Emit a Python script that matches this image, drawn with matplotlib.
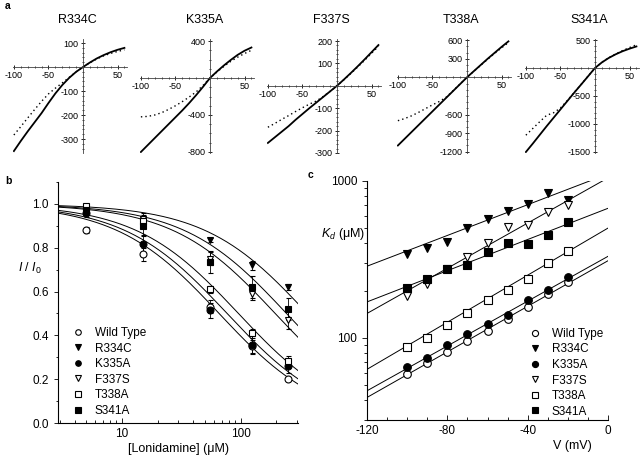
import matplotlib
matplotlib.use('Agg')
import matplotlib.pyplot as plt
import matplotlib.transforms as mtransforms
from matplotlib.ticker import MultipleLocator, FixedLocator, NullFormatter
import numpy as np

plt.rcParams['font.family'] = ['Liberation Sans', 'DejaVu Sans']
plt.rcParams['mathtext.fontset'] = 'custom'
plt.rcParams['mathtext.it'] = 'Liberation Sans:italic'
plt.rcParams['mathtext.rm'] = 'Liberation Sans'
plt.rcParams['axes.unicode_minus'] = False  # plain hyphen for negatives

# ---- panel a : I-V traces (control = solid, lonidamine = dotted) ----
mutants = ['R334C', 'K335A', 'F337S', 'T338A', 'S341A']
v_iv = [-100, -90, -80, -70, -60, -50, -40, -30, -20, -10, 0, 10, 20, 30, 40, 50, 60]
i_r334c = [-350, -308, -268, -230, -192, -150, -110, -75, -45, -20, 0, 19, 36, 50, 62, 72, 80]
i_r334c_lon = [-283, -248, -212, -177, -143, -112, -88, -66, -43, -20, 0, 18, 34, 47, 57, 65, 72]
i_k335a = [-800, -725, -650, -575, -500, -425, -350, -270, -185, -95, 0, 70, 135, 195, 250, 295, 330]
i_k335a_lon = [-420, -415, -400, -375, -340, -300, -255, -205, -150, -80, 0, 65, 125, 180, 225, 265, 300]
i_f337s = [-255, -230, -205, -180, -152, -126, -100, -75, -50, -25, 0, 28, 57, 87, 118, 150, 182]
i_f337s_lon = [-185, -168, -150, -133, -115, -98, -82, -68, -48, -25, 0, 27, 55, 84, 114, 145, 176]
i_t338a = [-1100, -990, -880, -770, -660, -550, -440, -330, -220, -110, 0, 100, 200, 300, 395, 490, 580]
i_t338a_lon = [-700, -665, -620, -565, -505, -445, -390, -320, -215, -108, 0, 98, 196, 292, 385, 475, 560]
i_s341a = [-1500, -1350, -1195, -1040, -890, -740, -590, -440, -295, -148, 0, 100, 180, 245, 300, 345, 385]
i_s341a_lon = [-1200, -1080, -960, -845, -800, -715, -580, -435, -292, -146, 0, 102, 185, 252, 312, 365, 415]
iv_ctrl = [i_r334c, i_k335a, i_f337s, i_t338a, i_s341a]
iv_lon = [i_r334c_lon, i_k335a_lon, i_f337s_lon, i_t338a_lon, i_s341a_lon]
iv_yticks = [[100, -100, -200, -300], [400, -400, -800], [200, 100, -100, -200, -300],
             [600, 300, -600, -900, -1200], [500, -500, -1000, -1500]]
iv_minor = [20, 100, 20, 100, 100]
iv_ylim = [(-358, 117), (-811, 422), (-298, 209), (-1221, 618), (-1518, 518)]

# ---- panel b : dose-response ----
series = ['Wild Type', 'R334C', 'K335A', 'F337S', 'T338A', 'S341A']
conc = [5, 15, 55, 125, 250]
frac_wt = [0.88, 0.77, 0.53, 0.35, 0.20]
frac_r334c = [0.97, 0.93, 0.835, 0.72, 0.62]
frac_k335a = [0.96, 0.815, 0.515, 0.355, 0.26]
frac_f337s = [0.98, 0.93, 0.75, 0.59, 0.47]
frac_t338a = [0.99, 0.92, 0.61, 0.41, 0.285]
frac_s341a = [0.97, 0.90, 0.735, 0.62, 0.52]
err_wt = [0.015, 0.03, 0.03, 0.03, 0.01]
err_r334c = [0.01, 0.02, 0.01, 0.02, 0.015]
err_k335a = [0.02, 0.04, 0.035, 0.04, 0.03]
err_f337s = [0.01, 0.03, 0.03, 0.03, 0.04]
err_t338a = [0.01, 0.02, 0.015, 0.02, 0.02]
err_s341a = [0.02, 0.04, 0.05, 0.05, 0.05]
kd_fit_b = [66, 365, 77, 196, 96, 244]  # uM, Hill n = 1

# ---- panel c : Kd vs voltage ----
volt = [-100, -90, -80, -70, -60, -50, -40, -30, -20]
kd_wt = [59, 69, 81, 95, 111, 132, 158, 190, 226]
kd_r334c = [341, 376, 410, 505, 570, 647, 713, 835, 757]
kd_k335a = [65, 74, 90, 106, 123, 140, 174, 201, 244]
kd_f337s = [185, 220, 276, 327, 401, 507, 525, 638, 703]
kd_t338a = [88, 100, 121, 144, 175, 202, 238, 299, 360]
kd_s341a = [207, 237, 274, 292, 355, 401, 397, 453, 546]
fit_log_kd0 = [2.492, 3.045, 2.52, 3.02, 2.70, 2.826]  # log10 Kd at 0 mV
fit_slope = [0.00726, 0.0049, 0.00714, 0.0072, 0.0075, 0.00497]  # per mV

markers = ['o', 'v', 'o', 'v', 's', 's']
faces = ['white', 'black', 'black', 'white', 'white', 'black']

fig = plt.figure(figsize=(6.4, 4.59), dpi=100)
W, H = 640.0, 459.0

# panel a
lefts = [12.5, 139.5, 266.5, 396.5, 524.5]
for k in range(5):
    ax = fig.add_axes([lefts[k] / W, 1 - 153 / H, 114 / W, 114 / H])
    ax.plot(v_iv, iv_ctrl[k], color='black', lw=1.3)
    ax.plot(v_iv, iv_lon[k], color='black', lw=1.0, ls=(0, (1, 2.2)))
    ax.set_xlim(-102, 63)
    ax.set_ylim(*iv_ylim[k])
    ax.spines['left'].set_position(('data', 0))
    ax.spines['bottom'].set_position(('data', 0))
    ax.spines['top'].set_visible(False)
    ax.spines['right'].set_visible(False)
    for s in ['left', 'bottom']:
        ax.spines[s].set_linewidth(0.6)
        ax.spines[s].set_color('0.25')
    ax.set_xticks([-100, -50, 50])
    ax.xaxis.set_minor_locator(MultipleLocator(10))
    ax.set_yticks(iv_yticks[k])
    ax.yaxis.set_minor_locator(MultipleLocator(iv_minor[k]))
    ax.tick_params(which='major', direction='inout', length=3, width=0.6, labelsize=6.5, pad=1.5)
    ax.tick_params(which='minor', direction='inout', length=1.8, width=0.5)
    ax.patch.set_alpha(0)
    trans = mtransforms.blended_transform_factory(ax.transData, ax.transAxes)
    ax.text(-8, 1.17, mutants[k], transform=trans, ha='center', va='center', fontsize=9)

# panel b
axb = fig.add_axes([58 / W, 1 - 423 / H, 240 / W, 241 / H])
fracs = [frac_wt, frac_r334c, frac_k335a, frac_f337s, frac_t338a, frac_s341a]
errs = [err_wt, err_r334c, err_k335a, err_f337s, err_t338a, err_s341a]
xc = np.logspace(np.log10(2.9), np.log10(305), 200)
for k in range(6):
    axb.plot(xc, 1 / (1 + xc / kd_fit_b[k]), color='black', lw=0.7)
for k in range(6):
    axb.errorbar(conc, fracs[k], yerr=errs[k], fmt=markers[k], mfc=faces[k], mec='black',
                 ms=5, mew=0.8, ecolor='black', elinewidth=0.6, capsize=1.8, capthick=0.6,
                 label=series[k], zorder=3)
axb.set_xscale('log')
axb.set_xlim(2.9, 305)
axb.set_ylim(0, 1.1)
axb.set_xticks([10, 100])
axb.set_xticklabels(['10', '100'])
axb.xaxis.set_minor_locator(FixedLocator([3, 4, 5, 6, 7, 8, 9, 20, 30, 40, 50, 60, 70, 80, 90, 200, 300]))
axb.xaxis.set_minor_formatter(NullFormatter())
axb.set_yticks([0.0, 0.2, 0.4, 0.6, 0.8, 1.0])
axb.set_yticklabels(['0.0', '0.2', '0.4', '0.6', '0.8', '1.0'])
axb.yaxis.set_minor_locator(MultipleLocator(0.1))
axb.spines['top'].set_visible(False)
axb.spines['right'].set_visible(False)
axb.tick_params(axis='y', which='both', direction='out', labelsize=8.5, width=0.6)
axb.tick_params(axis='y', which='major', length=3)
axb.tick_params(axis='y', which='minor', length=1.5)
axb.tick_params(axis='x', which='both', direction='in', labelsize=8.5, width=0.6)
axb.tick_params(axis='x', which='major', length=3.5)
axb.tick_params(axis='x', which='minor', length=2)
axb.set_xlabel('[Lonidamine] (μM)', fontsize=9, labelpad=2)
h, l = axb.get_legend_handles_labels()
h = [x[0] for x in h]
axb.legend(h, l, loc='upper left', bbox_to_anchor=(0.035, 0.423), frameon=False, fontsize=8.5,
           handlelength=1.0, handletextpad=0.9, labelspacing=0.3, borderpad=0, markerscale=0.8)
fig.text(30 / W, 1 - 268 / H, r'$I$ / $I_0$', ha='center', va='center', fontsize=9)

# panel c
axc = fig.add_axes([367 / W, 1 - 420 / H, 241 / W, 239 / H])
kds = [kd_wt, kd_r334c, kd_k335a, kd_f337s, kd_t338a, kd_s341a]
vv = np.linspace(-120, 0, 60)
for k in range(6):
    axc.plot(vv, 10 ** (fit_log_kd0[k] + fit_slope[k] * vv), color='black', lw=0.7)
for k in range(6):
    axc.plot(volt, kds[k], ls='none', marker=markers[k], mfc=faces[k], mec='black',
             ms=5.5, mew=0.8, label=series[k], zorder=3)
axc.set_yscale('log')
axc.set_xlim(-120, 0)
axc.set_ylim(30, 1000)
axc.set_xticks([-120, -80, -40, 0])
axc.xaxis.set_minor_locator(MultipleLocator(10))
axc.set_yticks([100, 1000])
axc.set_yticklabels(['100', '1000'])
axc.yaxis.set_minor_locator(FixedLocator([30, 40, 50, 60, 70, 80, 90, 200, 300, 400, 500, 600, 700, 800, 900]))
axc.yaxis.set_minor_formatter(NullFormatter())
axc.spines['top'].set_visible(False)
axc.spines['right'].set_visible(False)
axc.tick_params(axis='y', which='both', direction='out', labelsize=8.5, width=0.6)
axc.tick_params(axis='y', which='major', length=3.5)
axc.tick_params(axis='y', which='minor', length=2)
axc.tick_params(axis='x', which='both', direction='in', labelsize=8.5, width=0.6)
axc.tick_params(axis='x', which='major', length=3.5)
axc.tick_params(axis='x', which='minor', length=2)
axc.legend(loc='upper left', bbox_to_anchor=(0.65, 0.41), frameon=False, fontsize=8.5,
           handlelength=1.0, handletextpad=0.9, labelspacing=0.3, borderpad=0, markerscale=0.8)
fig.text(572 / W, 1 - 446 / H, 'V (mV)', ha='center', va='center', fontsize=9)
fig.text(343 / W, 1 - 234 / H, r'$K_d$ (μM)', ha='center', va='center', fontsize=9)

# panel letters
fig.text(5 / W, 1 - 6 / H, 'a', fontsize=7.5, fontweight='bold', va='center')
fig.text(5 / W, 1 - 181 / H, 'b', fontsize=7.5, fontweight='bold', va='center')
fig.text(308 / W, 1 - 175 / H, 'c', fontsize=7.5, fontweight='bold', va='center')

plt.savefig('out.png', dpi=100)
